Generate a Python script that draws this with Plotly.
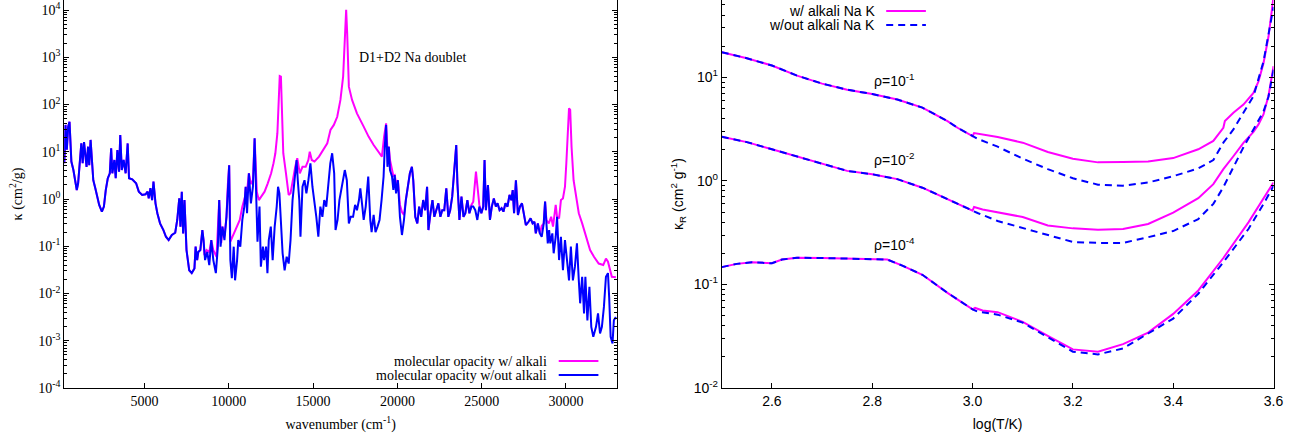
import plotly.graph_objects as go

# ---------------- left panel: opacity spectra ----------------
wn_blue = [
    240, 310, 390, 470, 550, 600, 660, 780, 880, 980,
    1060, 1140, 1250, 1330, 1410, 1490, 1560, 1650, 1720, 1800,
    1880, 1960, 2080, 2190, 2310, 2470, 2590, 2700, 2820, 2940,
    3020, 3090, 3210, 3290, 3390, 3490, 3560, 3650, 3760, 3880,
    4000, 4080, 4270, 4500, 4660, 4860, 5060, 5180, 5250, 5350,
    5450, 5530, 5650, 5760, 5920, 6120, 6270, 6430, 6620, 6820,
    6940, 7060, 7130, 7210, 7290, 7370, 7490, 7650, 7800, 7960,
    8030, 8120, 8190, 8310, 8430, 8500, 8590, 8720, 8840, 8960,
    9080, 9230, 9350, 9430, 9510, 9620, 9740, 9860, 9940, 10020,
    10090, 10180, 10290, 10370, 10490, 10560, 10680, 10800, 10920, 11000,
    11080, 11190, 11310, 11430, 11530, 11620, 11700, 11820, 11900, 12020,
    12090, 12210, 12290, 12370, 12490, 12600, 12720, 12840, 12920, 13000,
    13080, 13190, 13310, 13430, 13550, 13660, 13780, 13900, 14020, 14090,
    14180, 14250, 14370, 14490, 14600, 14720, 14840, 14960, 15080, 15190,
    15310, 15430, 15550, 15660, 15780, 15900, 16020, 16130, 16250, 16330,
    16450, 16560, 16720, 16880, 17000, 17120, 17230, 17370, 17490, 17600,
    17720, 17800, 17920, 18000, 18120, 18270, 18390, 18470, 18590, 18700,
    18820, 18940, 19060, 19180, 19250, 19330, 19410, 19490, 19560, 19680,
    19760, 19840, 19920, 20030, 20150, 20270, 20390, 20500, 20620, 20740,
    20860, 20940, 21060, 21180, 21290, 21410, 21530, 21650, 21760, 21840,
    21960, 22080, 22190, 22310, 22430, 22550, 22660, 22780, 22900, 23020,
    23130, 23250, 23370, 23490, 23560, 23680, 23800, 23920, 24030, 24150,
    24270, 24390, 24500, 24620, 24740, 24860, 24980, 25090, 25170, 25250,
    25370, 25490, 25600, 25720, 25840, 25940, 26060, 26180, 26290, 26410,
    26530, 26650, 26760, 26840, 26920, 27030, 27150, 27270, 27390, 27500,
    27620, 27780, 27900, 28020, 28130, 28210, 28330, 28450, 28560, 28680,
    28760, 28840, 28920, 29000, 29070, 29190, 29270, 29390, 29470, 29590,
    29700, 29820, 29940, 30060, 30180, 30290, 30410, 30530, 30650, 30760,
    30840, 30960, 31070, 31150, 31270, 31390, 31500, 31620, 31780, 31900,
    32020, 32130, 32250, 32370, 32490, 32560, 32650, 32760, 32840, 32960,
]
kappa_blue = [
    5.7, 37, 11, 34, 43, 11, 6.2, 4.1, 2.5, 1.55,
    2.15, 6.2, 15, 5.7, 16, 8.6, 4.8, 12.8, 5.2, 17.8,
    6.7, 2.5, 1.69, 1.12, 0.75, 0.54, 0.69, 1.55, 2.75, 3.5,
    11.9, 3.5, 6.7, 2.75, 10.9, 3.8, 22.7, 4.1, 6.7, 3.5,
    15, 2.75, 2.6, 2.15, 1.43, 1.22, 1.26, 1.43, 1.03, 1.69,
    0.95, 2.33, 0.81, 0.50, 0.305, 0.22, 0.159, 0.135, 0.173, 0.193,
    0.36, 1.03, 0.26, 1.43, 0.187, 0.95, 0.083, 0.031, 0.027, 0.034,
    0.098, 0.051, 0.076, 0.083, 0.22, 0.135, 0.051, 0.076, 0.040, 0.135,
    0.051, 0.027, 0.098, 0.95, 0.098, 0.26, 0.135, 0.42, 1.98, 5.2,
    0.051, 0.021, 0.098, 0.019, 0.051, 0.135, 0.098, 0.36, 0.69, 1.82,
    0.50, 3.5, 0.81, 1.82, 19.3, 1.32, 0.125, 0.69, 0.037, 0.098,
    0.051, 0.098, 0.027, 0.135, 0.26, 0.051, 0.26, 0.69, 1.82, 1.32,
    0.42, 0.071, 0.031, 0.060, 0.043, 0.135, 0.95, 3.0, 6.7, 2.5,
    0.95, 0.159, 1.82, 2.5, 1.32, 2.5, 5.7, 1.82, 0.95, 0.42,
    0.159, 0.69, 0.42, 0.95, 0.69, 1.82, 5.7, 9.3, 3.5, 0.22,
    0.36, 0.95, 1.82, 4.1, 2.5, 0.305, 0.42, 0.42, 0.75, 0.58,
    0.95, 1.69, 0.69, 0.36, 0.69, 3.0, 0.36, 0.20, 0.46, 0.20,
    0.26, 0.36, 0.95, 3.0, 12.8, 37, 4.8, 12.8, 4.1, 3.0,
    1.55, 3.2, 1.32, 2.5, 0.42, 0.173, 0.36, 0.95, 1.82, 3.5,
    4.8, 2.5, 0.42, 0.305, 0.69, 0.42, 0.95, 0.58, 1.82, 0.22,
    0.50, 0.95, 0.42, 0.58, 0.81, 0.42, 0.58, 0.58, 1.69, 0.42,
    0.58, 1.12, 4.1, 13.9, 2.15, 0.36, 1.12, 0.42, 0.50, 0.95,
    0.50, 0.69, 0.69, 0.58, 0.36, 0.69, 0.50, 0.69, 6.7, 0.58,
    1.98, 0.36, 0.69, 1.03, 0.69, 0.81, 0.58, 0.64, 0.54, 0.81,
    0.69, 1.22, 0.95, 1.55, 0.50, 2.5, 0.46, 0.69, 0.81, 0.50,
    0.28, 0.33, 0.39, 0.305, 0.33, 0.187, 0.305, 0.187, 0.159, 0.305,
    0.88, 0.305, 0.115, 0.22, 0.115, 0.187, 0.071, 0.159, 0.42, 0.051,
    0.159, 0.031, 0.135, 0.051, 0.019, 0.098, 0.019, 0.037, 0.115, 0.019,
    0.0062, 0.0226, 0.0038, 0.0226, 0.0027, 0.0139, 0.00197, 0.00121, 0.00197, 0.0038,
    0.00143, 0.00197, 0.0052, 0.0226, 0.027, 0.0085, 0.00121, 0.00088, 0.0027, 0.0032,
]

# segments where the alkali curve departs from the molecular-only one
wn_alk_seg1 = [
    8310, 8430, 8500, 8550, 8680, 8840, 8960, 9080, 9270, 9430,
    9550, 9620, 9740, 9860, 9940, 10020, 10090, 10250, 10450, 10650,
    10800, 10960, 11000, 11080, 11190, 11310, 11430, 11530, 11660, 11780,
    11920, 12120, 12310, 12510, 12650, 12760, 12880, 12960, 13020, 13090,
    13150, 13230, 13390, 13550, 13660, 13780, 13940, 14060, 14210, 14370,
    14560, 14720, 14800, 14920, 15080, 15350, 15620, 15840, 16030, 16230,
    16430, 16620, 16780, 16920, 16960, 17020, 17120, 17310, 17600, 18000,
    18290, 18590, 18940, 19080, 19210, 19330, 19410, 19490, 19560, 19680,
    19760, 19840, 19920, 20030, 20150, 20270, 20390, 20500,
]
kappa_alk_seg1 = [
    0.083, 0.22, 0.135, 0.065, 0.083, 0.075, 0.135, 0.083, 0.060, 0.95,
    0.117, 0.26, 0.164, 0.42, 1.98, 5.2, 0.125, 0.173, 0.24, 0.36,
    0.69, 1.12, 1.82, 1.43, 3.5, 2.08, 2.5, 19.3, 1.43, 0.95,
    1.12, 1.43, 2.15, 3.5, 5.7, 9.3, 24.7, 107, 400, 390,
    77, 9.3, 3.5, 1.22, 1.32, 2.5, 4.8, 7.3, 3.5, 4.8,
    4.8, 6.7, 10, 6.7, 6.2, 7.9, 10.9, 15.1, 29, 37,
    55, 125, 390, 3240, 10100, 3240, 239, 125, 65, 34,
    20.9, 13.9, 9.3, 7.9, 20.9, 40, 10.9, 12.8, 6.7, 4.1,
    3.07, 3.2, 2.18, 2.5, 0.75, 0.53, 0.46, 0.95,
]
wn_alk_seg2 = [24390, 24500, 24620, 24660, 24740, 24860]
kappa_alk_seg2 = [0.75, 0.88, 3.4, 3.8, 1.98, 0.75]
wn_alk_seg3 = [
    28560, 28680, 28760, 28840, 28980, 29120, 29230, 29390, 29470, 29590,
    29700, 29820, 29940, 30020, 30090, 30180, 30250, 30330, 30450, 30600,
    30760, 30960, 31230, 31430, 31660, 31940, 32210, 32370, 32490, 32600,
    32720, 32960,
]
kappa_alk_seg3 = [
    0.27, 0.305, 0.88, 0.36, 0.305, 0.42, 0.26, 0.75, 0.42, 0.39,
    0.95, 1.03, 1.82, 5.7, 29, 83, 77, 12.8, 2.5, 1.12,
    0.50, 0.305, 0.135, 0.083, 0.060, 0.043, 0.040, 0.055, 0.047, 0.031,
    0.0226, 0.022,
]

wn_alk = (wn_blue[:73] + wn_alk_seg1 + wn_blue[188:221] + wn_alk_seg2
          + wn_blue[226:258] + wn_alk_seg3)
kappa_alk = (kappa_blue[:73] + kappa_alk_seg1 + kappa_blue[188:221] + kappa_alk_seg2
             + kappa_blue[226:258] + kappa_alk_seg3)

# ---------------- right panel: Rosseland mean opacities ----------------
# rho = 1e-1
logT_r1_low = [2.50, 2.55, 2.60, 2.65, 2.70, 2.75, 2.80, 2.85, 2.90, 2.95, 2.97, 3.00]
kR_r1_low = [17.5, 15.3, 13.0, 10.4, 8.7, 7.6, 6.9, 6.1, 5.1, 3.78, 3.26, 2.71]
logT_r1_alk = [3.003, 3.02, 3.05, 3.10, 3.15, 3.20, 3.25, 3.30, 3.35, 3.40, 3.45,
               3.48, 3.49, 3.50, 3.503, 3.52, 3.54, 3.56, 3.57, 3.58, 3.59, 3.60]
kR_r1_alk = [2.9, 2.8, 2.65, 2.34, 1.90, 1.64, 1.51, 1.52, 1.54, 1.66, 2.02,
             2.43, 2.81, 3.26, 3.78, 4.55, 5.46, 7.08, 9.16, 13.7, 24.8, 60]
logT_r1_noalk = [3.01, 3.05, 3.10, 3.15, 3.20, 3.25, 3.30, 3.35, 3.40, 3.45,
                 3.48, 3.50, 3.52, 3.54, 3.56, 3.58, 3.59, 3.60]
kR_r1_noalk = [2.55, 2.14, 1.64, 1.30, 1.06, 0.92, 0.90, 0.965, 1.11, 1.32,
               1.59, 2.34, 3.14, 4.55, 6.57, 14.2, 25.7, 48]

# rho = 1e-2
logT_r2_low = [2.50, 2.55, 2.60, 2.65, 2.70, 2.75, 2.80, 2.85, 2.90, 2.95, 3.00]
kR_r2_low = [2.67, 2.37, 2.02, 1.72, 1.45, 1.25, 1.16, 1.04, 0.86, 0.667, 0.515]
logT_r2_alk = [3.003, 3.02, 3.10, 3.15, 3.20, 3.25, 3.30, 3.35, 3.40, 3.45, 3.48,
               3.50, 3.52, 3.54, 3.56, 3.57, 3.58, 3.59, 3.60]
kR_r2_alk = [0.56, 0.53, 0.448, 0.371, 0.348, 0.338, 0.343, 0.384, 0.494, 0.68, 0.93,
             1.30, 1.73, 2.33, 2.97, 3.51, 4.38, 6.67, 12.8]
logT_r2_noalk = [3.01, 3.05, 3.10, 3.15, 3.20, 3.25, 3.30, 3.35, 3.40, 3.45, 3.48,
                 3.50, 3.52, 3.54, 3.56, 3.58, 3.59, 3.60]
kR_r2_noalk = [0.49, 0.41, 0.351, 0.296, 0.257, 0.252, 0.252, 0.286, 0.328, 0.428, 0.60,
               0.87, 1.38, 2.11, 3.14, 4.68, 6.5, 11.9]

# rho = 1e-4
logT_r4_low = [2.50, 2.53, 2.56, 2.58, 2.60, 2.62, 2.65, 2.70, 2.75, 2.78, 2.80,
               2.83, 2.86, 2.90, 2.95, 3.00]
kR_r4_low = [0.147, 0.158, 0.164, 0.163, 0.160, 0.174, 0.181, 0.180, 0.178, 0.176, 0.178,
             0.174, 0.152, 0.124, 0.083, 0.0575]
logT_r4_alk = [3.005, 3.02, 3.05, 3.10, 3.15, 3.20, 3.25, 3.30, 3.35, 3.40, 3.45,
               3.50, 3.55, 3.58, 3.60]
kR_r4_alk = [0.0593, 0.056, 0.054, 0.0435, 0.0319, 0.0236, 0.0224, 0.0265, 0.0343, 0.052,
             0.0875, 0.18, 0.398, 0.667, 0.966]
logT_r4_noalk = [3.01, 3.05, 3.10, 3.15, 3.20, 3.25, 3.30, 3.35, 3.40, 3.45,
                 3.50, 3.55, 3.58, 3.60]
kR_r4_noalk = [0.0546, 0.0511, 0.0428, 0.0312, 0.0224, 0.0211, 0.0241, 0.0336, 0.0468,
               0.0814, 0.164, 0.343, 0.597, 0.895]

# axis tick definitions
left_xticks = [5000, 10000, 15000, 20000, 25000, 30000]
left_yticks = [1e-4, 1e-3, 1e-2, 1e-1, 1e0, 1e1, 1e2, 1e3, 1e4]
left_yticktext = ["10<sup>-4</sup>", "10<sup>-3</sup>", "10<sup>-2</sup>", "10<sup>-1</sup>",
                  "10<sup>0</sup>", "10<sup>1</sup>", "10<sup>2</sup>", "10<sup>3</sup>",
                  "10<sup>4</sup>"]
right_xticks = [2.6, 2.8, 3.0, 3.2, 3.4, 3.6]
right_xticktext = ["2.6", "2.8", "3.0", "3.2", "3.4", "3.6"]
right_yticks = [1e-2, 1e-1, 1e0, 1e1]
right_yticktext = ["10<sup>-2</sup>", "10<sup>-1</sup>", "10<sup>0</sup>", "10<sup>1</sup>"]

MAG = "#ff00ff"
BLU = "#0000ff"
SERIF = "Liberation Serif"
SANS = "Liberation Sans"

def minor_vals(lo, hi):
    out = []
    for e in range(lo, hi):
        for m in range(2, 10):
            out.append(m * 10.0 ** e)
    return out

fig = go.Figure()

# left panel traces
fig.add_trace(go.Scatter(x=wn_alk, y=kappa_alk, mode="lines",
                         line=dict(color=MAG, width=2), xaxis="x", yaxis="y",
                         name="molecular opacity w/ alkali"))
fig.add_trace(go.Scatter(x=wn_blue, y=kappa_blue, mode="lines",
                         line=dict(color=BLU, width=2), xaxis="x", yaxis="y",
                         name="molecular opacity w/out alkali"))

# right panel traces
for lo_x, lo_y, ax, ay, bx, by in [
    (logT_r1_low, kR_r1_low, logT_r1_alk, kR_r1_alk, logT_r1_noalk, kR_r1_noalk),
    (logT_r2_low, kR_r2_low, logT_r2_alk, kR_r2_alk, logT_r2_noalk, kR_r2_noalk),
    (logT_r4_low, kR_r4_low, logT_r4_alk, kR_r4_alk, logT_r4_noalk, kR_r4_noalk),
]:
    fig.add_trace(go.Scatter(x=lo_x + ax, y=lo_y + ay, mode="lines",
                             line=dict(color=MAG, width=2), xaxis="x2", yaxis="y2",
                             name="w/ alkali Na K"))
    fig.add_trace(go.Scatter(x=lo_x + bx, y=lo_y + by, mode="lines",
                             line=dict(color=BLU, width=2, dash="7px,5px"),
                             xaxis="x2", yaxis="y2", name="w/out alkali Na K"))

W, H = 1313, 439
PB = 388  # plot-area height in px (top margin 0)
L1, R1 = 64.7, 621.7
L2, R2 = 727.3, 1283.3
xr1 = [235, 33024]
yr1 = [-4, 4.212]
xr2 = [2.5, 3.6]
yr2 = [-2, 1.747]

common_axis = dict(showgrid=False, zeroline=False, linecolor="black", linewidth=1,
                   ticks="inside", tickcolor="black", ticklen=5, showline=True)

fig.update_layout(
    width=W, height=H,
    margin=dict(l=0, r=0, t=0, b=H - PB, pad=0),
    paper_bgcolor="white", plot_bgcolor="white",
    showlegend=False,
    xaxis=dict(domain=[L1 / W, R1 / W], range=xr1, anchor="y",
               tickvals=left_xticks, ticktext=[str(v) for v in left_xticks],
               tickfont=dict(family=SERIF, size=14, color="black"),
               title=dict(text="wavenumber (cm<sup>-1</sup>)",
                          font=dict(family=SERIF, size=14, color="black"), standoff=11),
               **common_axis),
    xaxis3=dict(overlaying="x", side="top", anchor="y", range=xr1,
                tickvals=left_xticks, ticks="inside", ticklen=5, tickcolor="black",
                showticklabels=False, showline=False, showgrid=False, zeroline=False),
    yaxis=dict(domain=[0, 1], type="log", range=yr1, anchor="x",
               tickvals=left_yticks, ticktext=left_yticktext, mirror="ticks",
               tickfont=dict(family=SERIF, size=14, color="black"),
               minor=dict(tickvals=minor_vals(-4, 4), ticks="inside", ticklen=3,
                          tickcolor="black"),
               title=dict(text="κ (cm<sup>2</sup>/g)",
                          font=dict(family=SERIF, size=14, color="black"), standoff=12),
               **common_axis),
    xaxis2=dict(domain=[L2 / W, R2 / W], range=xr2, anchor="y2",
                tickvals=right_xticks, ticktext=right_xticktext,
                tickfont=dict(family=SANS, size=14, color="black"),
                title=dict(text="log(T/K)",
                           font=dict(family=SANS, size=14, color="black"), standoff=11),
                **common_axis),
    xaxis4=dict(overlaying="x2", side="top", anchor="y2", range=xr2,
                tickvals=right_xticks, ticks="inside", ticklen=5, tickcolor="black",
                showticklabels=False, showline=False, showgrid=False, zeroline=False),
    yaxis2=dict(domain=[0, 1], type="log", range=yr2, anchor="x2",
                tickvals=right_yticks, ticktext=right_yticktext, mirror="ticks",
                tickfont=dict(family=SANS, size=14, color="black"),
                minor=dict(tickvals=minor_vals(-2, 2), ticks="inside", ticklen=3,
                           tickcolor="black"),
                title=dict(text="κ<sub>R</sub> (cm<sup>2</sup> g<sup>-1</sup>)",
                           font=dict(family=SANS, size=14, color="black"), standoff=6),
                **common_axis),
)

# text annotations
fig.add_annotation(x=17600, y=2.99, xref="x", yref="y", text="D1+D2 Na doublet",
                   showarrow=False, xanchor="left", yanchor="middle",
                   font=dict(family=SERIF, size=14, color="black"))
for txt, yv in [("ρ=10<sup>-1</sup>", 0.978), ("ρ=10<sup>-2</sup>", 0.209),
                ("ρ=10<sup>-4</sup>", -0.609)]:
    fig.add_annotation(x=2.8, y=yv, xref="x2", yref="y2", text=txt, showarrow=False,
                       xanchor="left", yanchor="middle",
                       font=dict(family=SANS, size=14, color="black"))

# hand-drawn legends (text left of line sample, as in the original)
def legend_entry(text_right_px, y_px, line_x0, line_x1, text, color, dash, family):
    fig.add_annotation(x=text_right_px / W, y=(PB - y_px) / PB, xref="paper", yref="paper",
                       text=text, showarrow=False, xanchor="right", yanchor="middle",
                       font=dict(family=family, size=14, color="black"))
    fig.add_shape(type="line", xref="paper", yref="paper",
                  x0=line_x0 / W, x1=line_x1 / W,
                  y0=(PB - y_px) / PB, y1=(PB - y_px) / PB,
                  line=dict(color=color, width=2, dash=dash))

legend_entry(553, 361, 563, 603, "molecular opacity w/ alkali", MAG, "solid", SERIF)
legend_entry(553, 375, 563, 603, "molecular opacity w/out alkali", BLU, "solid", SERIF)
legend_entry(884, 11, 893, 933, "w/ alkali Na K", MAG, "solid", SANS)
legend_entry(884, 25, 893, 933, "w/out alkali Na K", BLU, "7px,5px", SANS)

# remove default page margins so the figure sits exactly in the window
page_fix = ("document.documentElement.style.margin='0';"
            "document.documentElement.style.overflow='hidden';"
            "document.body.style.margin='0';document.body.style.padding='0';"
            "document.body.style.overflow='hidden';")

fig.write_html("out.html", post_script=page_fix)
